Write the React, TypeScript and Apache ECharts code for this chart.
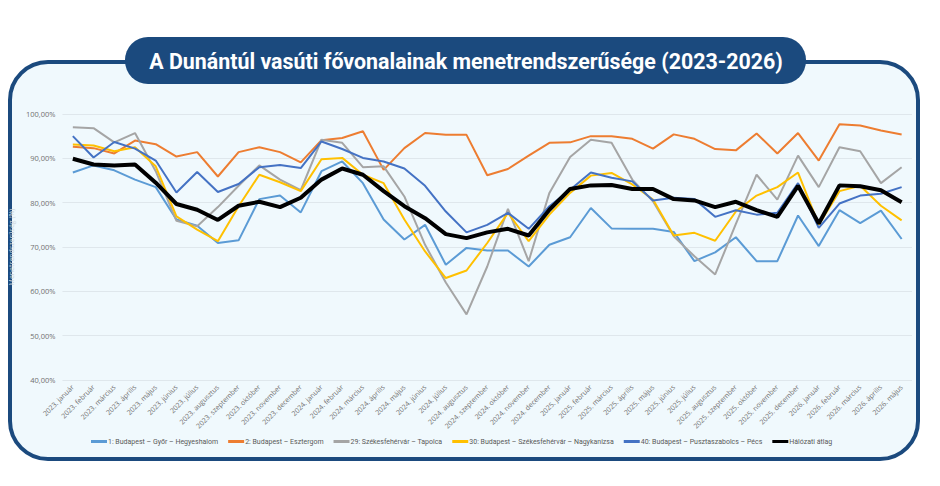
import React, { useEffect, useRef } from "react";
import * as echarts from "echarts";

const years = [2023, 2024, 2025, 2026];
const months = [
  "január", "február", "március", "április", "május", "június",
  "július", "augusztus", "szeptember", "október", "november", "december",
];
// 2023. január … 2026. május
const categories: string[] = [];
years.forEach((y) => {
  const n = y === 2026 ? 5 : 12;
  for (let m = 0; m < n; m++) categories.push(`${y}. ${months[m]}`);
});

const yTicks = { min: 40, max: 100, interval: 10 };

const line1 = [
  86.8, 88.4, 87.3, 85.2, 83.5, 76.2, 74.8, 70.9, 71.5, 80.8, 81.6, 77.8,
  87.1, 89.3, 84.4, 76.2, 71.7, 75.0, 66.0, 69.8, 69.2, 69.2, 65.6, 70.5,
  72.2, 78.8, 74.2, 74.1, 74.1, 73.4, 66.8, 68.8, 72.2, 66.8, 66.8, 77.1,
  70.2, 78.3, 75.4, 78.2, 71.8,
];
const line2 = [
  92.6, 92.3, 91.1, 94.0, 93.2, 90.4, 91.4, 85.9, 91.4, 92.5, 91.4, 89.1,
  94.1, 94.6, 96.1, 87.4, 92.3, 95.7, 95.3, 95.3, 86.2, 87.6, 90.6, 93.5,
  93.6, 95.0, 95.0, 94.4, 92.2, 95.4, 94.4, 92.1, 91.8, 95.6, 91.1, 95.7,
  89.5, 97.7, 97.4, 96.3, 95.4,
];
const line29 = [
  97.0, 96.8, 93.6, 95.7, 87.1, 75.9, 74.7, 79.0, 83.8, 88.4, 85.2, 82.8,
  94.2, 93.5, 88.0, 88.2, 81.4, 70.5, 62.0, 54.8, 65.6, 78.6, 66.8, 82.2,
  90.3, 94.2, 93.5, 85.2, 80.3, 72.4, 67.9, 63.8, 75.2, 86.3, 80.7, 90.6,
  83.5, 92.5, 91.6, 84.4, 88.0,
];
const line30 = [
  93.1, 92.9, 91.6, 92.5, 88.2, 76.9, 73.9, 71.3, 79.2, 86.3, 84.6, 82.6,
  89.8, 90.1, 86.3, 84.4, 76.2, 69.0, 63.0, 64.7, 70.9, 77.7, 71.3, 77.3,
  82.2, 86.1, 86.7, 84.1, 80.7, 72.6, 73.2, 71.4, 78.0, 81.6, 83.5, 86.8,
  75.0, 82.6, 83.8, 79.3, 76.0,
];
const line40 = [
  95.0, 90.2, 93.7, 92.2, 89.5, 82.3, 86.9, 82.4, 84.2, 88.0, 88.5, 87.8,
  93.8, 92.1, 90.1, 89.3, 87.7, 83.8, 78.0, 73.3, 75.0, 77.7, 74.1, 79.2,
  82.9, 86.8, 85.6, 84.8, 80.5, 81.1, 80.8, 76.8, 78.3, 77.3, 77.7, 84.4,
  74.3, 79.8, 81.6, 82.0, 83.5,
];
const networkAvg = [
  89.9, 88.6, 88.4, 88.6, 84.5, 79.7, 78.4, 76.1, 79.3, 80.2, 79.0, 81.1,
  85.2, 87.7, 86.3, 82.6, 79.2, 76.5, 72.9, 72.0, 73.3, 74.1, 72.6, 78.4,
  83.1, 83.9, 84.0, 83.1, 83.1, 80.8, 80.5, 79.0, 80.2, 78.3, 76.8, 83.8,
  75.3, 83.9, 83.7, 82.8, 80.1,
];

const seriesDefs = [
  { name: "1: Budapest – Győr – Hegyeshalom", data: line1, color: "#5b9bd5", width: 2 },
  { name: "2: Budapest – Esztergom", data: line2, color: "#ed7d31", width: 2 },
  { name: "29: Székesfehérvár – Tapolca", data: line29, color: "#a5a5a5", width: 2 },
  { name: "30: Budapest – Székesfehérvár – Nagykanizsa", data: line30, color: "#ffc000", width: 2 },
  { name: "40: Budapest – Pusztaszabolcs – Pécs", data: line40, color: "#4472c4", width: 2 },
  { name: "Hálózati átlag", data: networkAvg, color: "#000000", width: 4 },
];

const TITLE = "A Dunántúl vasúti fővonalainak menetrendszerűsége (2023-2026)";
const TITLE_FONT = "bold 22px Roboto, sans-serif";
const TITLE_WIDTH = 634;
const NAVY = "#1b4a7e";

// horizontal squeeze that makes the title fit inside its pill
function titleScale(): number {
  const ctx = document.createElement("canvas").getContext("2d");
  if (!ctx) return 0.85;
  ctx.font = TITLE_FONT;
  const w = ctx.measureText(TITLE).width;
  return w > 0 ? Math.min(1, TITLE_WIDTH / w) : 0.85;
}

export default function App() {
  const ref = useRef<HTMLDivElement>(null);

  useEffect(() => {
    if (!ref.current) return;
    const chart = echarts.init(ref.current, undefined, { renderer: "svg" });
    chart.setOption({
      animation: false,
      backgroundColor: "#ffffff",
      graphic: [
        {
          type: "rect",
          z: -10,
          silent: true,
          shape: { x: 10, y: 62, width: 908, height: 397, r: 38 },
          style: { fill: "#f0f9fd", stroke: NAVY, lineWidth: 4 },
        },
        {
          type: "rect",
          z: 10,
          silent: true,
          shape: { x: 125, y: 37, width: 681, height: 47, r: 23 },
          style: { fill: NAVY },
        },
        {
          type: "text",
          z: 11,
          silent: true,
          x: 466,
          y: 61,
          scaleX: titleScale(),
          style: {
            text: TITLE,
            fill: "#ffffff",
            font: TITLE_FONT,
            textAlign: "center",
            textVerticalAlign: "middle",
          },
        },
      ],
      grid: { left: 48, right: 28, top: 114, bottom: 106 },
      legend: {
        top: 433,
        left: 86,
        width: 820,
        itemWidth: 16,
        itemHeight: 3,
        itemGap: 10,
        icon: "rect",
        textStyle: { fontFamily: "Roboto, sans-serif", fontSize: 7, color: "#595959", padding: [0, 0, 0, -4] },
        data: seriesDefs.map((s) => s.name),
      },
      xAxis: {
        type: "category",
        data: categories,
        boundaryGap: true,
        axisLine: { show: false },
        axisTick: { show: false },
        axisLabel: {
          interval: 0,
          rotate: 45,
          fontSize: 7,
          color: "#707070",
          fontFamily: "'Open Sans', sans-serif",
          margin: 6,
        },
      },
      yAxis: {
        type: "value",
        min: yTicks.min,
        max: yTicks.max,
        interval: yTicks.interval,
        name: "Menetrendszerűség (%)",
        nameLocation: "middle",
        nameGap: 41,
        nameTextStyle: { fontSize: 7, color: "#c9d3da", fontFamily: "'Open Sans', sans-serif" },
        axisLine: { show: false },
        axisTick: { show: false },
        splitLine: { lineStyle: { color: "#dfe7ec", width: 1 } },
        axisLabel: {
          fontSize: 7.5,
          color: "#707070",
          fontFamily: "'Open Sans', sans-serif",
          margin: 7,
          formatter: (v: number) => v.toFixed(2).replace(".", ",") + "%",
        },
      },
      series: seriesDefs.map((s, i) => ({
        name: s.name,
        type: "line",
        data: s.data,
        symbol: "none",
        z: 2 + i,
        itemStyle: { color: s.color },
        lineStyle: { color: s.color, width: s.width },
      })),
    });
    return () => chart.dispose();
  }, []);

  return (
    <div
      ref={ref}
      style={{ position: "fixed", left: 0, top: 0, width: 940, height: 486 }}
    />
  );
}
